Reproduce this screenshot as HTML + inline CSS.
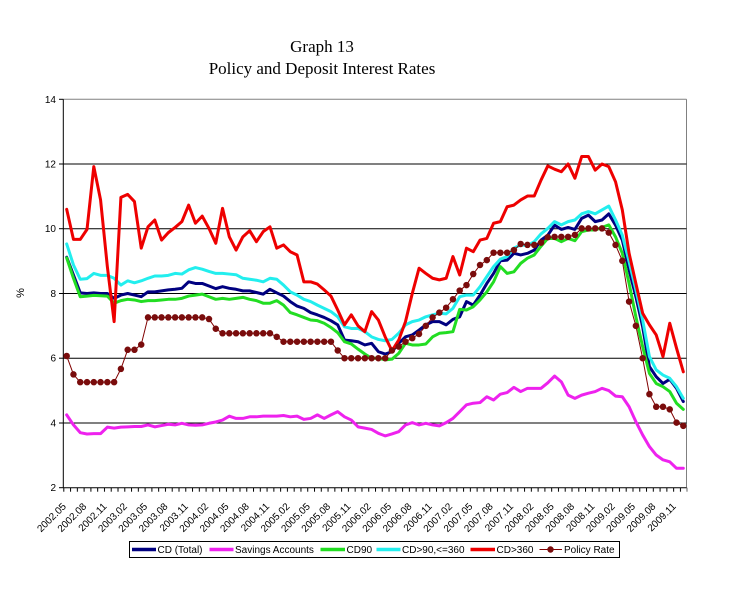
<!DOCTYPE html>
<html>
<head>
<meta charset="utf-8">
<style>
html,body{margin:0;padding:0;background:#fff;}
svg{display:block;}
text{font-family:"Liberation Sans",Arial,sans-serif;}
</style>
</head>
<body>
<svg width="733" height="589" viewBox="0 0 733 589" xmlns="http://www.w3.org/2000/svg">
<defs>
<pattern id="tk" x="63.3" y="0" width="6.776" height="10" patternUnits="userSpaceOnUse">
<rect x="0" y="0" width="1" height="10" fill="#000"/>
</pattern>
</defs>
<rect width="733" height="589" fill="#fff"/>
<!-- Title -->
<text x="322" y="52" text-anchor="middle" style="font-family:'Liberation Serif',serif;font-size:17px;">Graph 13</text>
<text x="322" y="74" text-anchor="middle" style="font-family:'Liberation Serif',serif;font-size:17px;">Policy and Deposit Interest Rates</text>

<!-- plot frame -->
<line x1="63.3" y1="99.3" x2="686.5" y2="99.3" stroke="#808080" stroke-width="1"/>
<line x1="686.5" y1="99.3" x2="686.5" y2="487.7" stroke="#808080" stroke-width="1"/>
<!-- gridlines -->
<g stroke="#000" stroke-width="1">
<line x1="63.3" y1="164" x2="686.5" y2="164"/>
<line x1="63.3" y1="228.7" x2="686.5" y2="228.7"/>
<line x1="63.3" y1="293.5" x2="686.5" y2="293.5"/>
<line x1="63.3" y1="358.2" x2="686.5" y2="358.2"/>
<line x1="63.3" y1="423" x2="686.5" y2="423"/>
<line x1="63.3" y1="99.3" x2="63.3" y2="487.7"/>
<line x1="63.3" y1="487.7" x2="686.5" y2="487.7"/>
<line x1="59" y1="99.3" x2="63.3" y2="99.3"/>
<line x1="59" y1="164" x2="63.3" y2="164"/>
<line x1="59" y1="228.7" x2="63.3" y2="228.7"/>
<line x1="59" y1="293.5" x2="63.3" y2="293.5"/>
<line x1="59" y1="358.2" x2="63.3" y2="358.2"/>
<line x1="59" y1="423" x2="63.3" y2="423"/>
<line x1="59" y1="487.7" x2="63.3" y2="487.7"/>
</g>
<rect x="62.8" y="487.7" width="624.5" height="4" fill="url(#tk)"/>

<!-- y labels -->
<g font-size="10" text-anchor="end">
<text x="56" y="103">14</text>
<text x="56" y="167.5">12</text>
<text x="56" y="232">10</text>
<text x="56" y="297">8</text>
<text x="56" y="361.5">6</text>
<text x="56" y="426.5">4</text>
<text x="56" y="491">2</text>
</g>
<text x="0" y="0" font-size="11" text-anchor="middle" transform="translate(24 293) rotate(-90)">%</text>

<!-- x labels -->
<g font-size="10" text-anchor="end">
<text transform="translate(66.69 507) rotate(-45)">2002.05</text>
<text transform="translate(87.02 507) rotate(-45)">2002.08</text>
<text transform="translate(107.35 507) rotate(-45)">2002.11</text>
<text transform="translate(127.67 507) rotate(-45)">2003.02</text>
<text transform="translate(148.0 507) rotate(-45)">2003.05</text>
<text transform="translate(168.33 507) rotate(-45)">2003.08</text>
<text transform="translate(188.66 507) rotate(-45)">2003.11</text>
<text transform="translate(208.99 507) rotate(-45)">2004.02</text>
<text transform="translate(229.31 507) rotate(-45)">2004.05</text>
<text transform="translate(249.64 507) rotate(-45)">2004.08</text>
<text transform="translate(269.97 507) rotate(-45)">2004.11</text>
<text transform="translate(290.30 507) rotate(-45)">2005.02</text>
<text transform="translate(310.63 507) rotate(-45)">2005.05</text>
<text transform="translate(330.95 507) rotate(-45)">2005.08</text>
<text transform="translate(351.28 507) rotate(-45)">2005.11</text>
<text transform="translate(371.61 507) rotate(-45)">2006.02</text>
<text transform="translate(391.94 507) rotate(-45)">2006.05</text>
<text transform="translate(412.27 507) rotate(-45)">2006.08</text>
<text transform="translate(432.59 507) rotate(-45)">2006.11</text>
<text transform="translate(452.92 507) rotate(-45)">2007.02</text>
<text transform="translate(473.25 507) rotate(-45)">2007.05</text>
<text transform="translate(493.58 507) rotate(-45)">2007.08</text>
<text transform="translate(513.91 507) rotate(-45)">2007.11</text>
<text transform="translate(534.23 507) rotate(-45)">2008.02</text>
<text transform="translate(554.56 507) rotate(-45)">2008.05</text>
<text transform="translate(574.89 507) rotate(-45)">2008.08</text>
<text transform="translate(595.22 507) rotate(-45)">2008.11</text>
<text transform="translate(615.55 507) rotate(-45)">2009.02</text>
<text transform="translate(635.87 507) rotate(-45)">2009.05</text>
<text transform="translate(656.20 507) rotate(-45)">2009.08</text>
<text transform="translate(676.53 507) rotate(-45)">2009.11</text>
</g>

<!-- series -->
<g transform="translate(66.69 552.44) scale(6.776 -32.37)" fill="none" stroke-linejoin="round" stroke-linecap="round">
<polyline vector-effect="non-scaling-stroke" stroke="#000080" stroke-width="3" points="0,9.12 1,8.57 2,8.02 3,8 4,8.02 5,8 6,8 7,7.85 8,7.95 9,8 10,7.95 11,7.9 12,8.05 13,8.05 14,8.08 15,8.11 16,8.13 17,8.16 18,8.36 19,8.31 20,8.31 21,8.23 22,8.15 23,8.21 24,8.16 25,8.13 26,8.08 27,8.08 28,8.03 29,7.98 30,8.13 31,8.02 32,7.92 33,7.75 34,7.61 35,7.54 36,7.41 37,7.34 38,7.26 39,7.16 40,7.03 41,6.56 42,6.54 43,6.51 44,6.41 45,6.46 46,6.2 47,6.13 48,6.2 49,6.46 50,6.66 51,6.72 52,6.87 53,7.03 54,7.13 55,7.13 56,7.03 57,7.2 58,7.28 59,7.75 60,7.64 61,7.95 62,8.31 63,8.62 64,9.01 65,9.03 66,9.24 67,9.19 68,9.24 69,9.34 70,9.65 71,9.8 72,10.11 73,9.98 74,10.04 75,9.98 76,10.32 77,10.42 78,10.22 79,10.27 80,10.46 81,10.11 82,9.65 83,8.73 84,7.9 85,6.97 86,5.74 87,5.43 88,5.22 89,5.35 90,5.07 91,4.66"/>
<polyline vector-effect="non-scaling-stroke" stroke="#ee22ee" stroke-width="3" points="0,4.25 1,3.94 2,3.7 3,3.66 4,3.67 5,3.67 6,3.87 7,3.84 8,3.87 9,3.88 10,3.89 11,3.89 12,3.94 13,3.88 14,3.92 15,3.96 16,3.94 17,3.99 18,3.94 19,3.93 20,3.94 21,3.99 22,4.03 23,4.09 24,4.21 25,4.14 26,4.14 27,4.19 28,4.19 29,4.21 30,4.21 31,4.21 32,4.23 33,4.19 34,4.21 35,4.11 36,4.14 37,4.25 38,4.14 39,4.25 40,4.35 41,4.19 42,4.09 43,3.88 44,3.84 45,3.8 46,3.68 47,3.6 48,3.66 49,3.73 50,3.94 51,4.01 52,3.94 53,3.99 54,3.94 55,3.91 56,4.01 57,4.14 58,4.35 59,4.56 60,4.61 61,4.63 62,4.81 63,4.71 64,4.89 65,4.94 66,5.1 67,4.97 68,5.07 69,5.07 70,5.07 71,5.24 72,5.45 73,5.27 74,4.86 75,4.76 76,4.86 77,4.92 78,4.97 79,5.07 80,5 81,4.83 82,4.81 83,4.5 84,4.04 85,3.63 86,3.27 87,3.01 88,2.86 89,2.8 90,2.6 91,2.6"/>
<polyline vector-effect="non-scaling-stroke" stroke="#22dd22" stroke-width="3" points="0,9.1 1,8.47 2,7.9 3,7.92 4,7.94 5,7.93 6,7.92 7,7.7 8,7.78 9,7.82 10,7.8 11,7.75 12,7.78 13,7.78 14,7.8 15,7.82 16,7.82 17,7.85 18,7.92 19,7.95 20,7.98 21,7.9 22,7.82 23,7.85 24,7.82 25,7.85 26,7.88 27,7.82 28,7.78 29,7.7 30,7.7 31,7.78 32,7.64 33,7.41 34,7.34 35,7.26 36,7.18 37,7.16 38,7.08 39,6.95 40,6.79 41,6.51 42,6.44 43,6.28 44,6.13 45,6.0 46,6.0 47,5.95 48,5.97 49,6.15 50,6.46 51,6.41 52,6.41 53,6.44 54,6.66 55,6.77 56,6.79 57,6.82 58,7.51 59,7.49 60,7.59 61,7.8 62,8.05 63,8.36 64,8.83 65,8.62 66,8.67 67,8.93 68,9.09 69,9.19 70,9.46 71,9.7 72,9.7 73,9.6 74,9.7 75,9.63 76,9.91 77,9.96 78,9.96 79,10.04 80,10.12 81,9.75 82,9.24 83,8.31 84,7.28 85,6.36 86,5.53 87,5.22 88,5.12 89,4.97 90,4.61 91,4.42"/>
<polyline vector-effect="non-scaling-stroke" stroke="#22eeee" stroke-width="3" points="0,9.53 1,8.88 2,8.44 3,8.46 4,8.62 5,8.56 6,8.56 7,8.47 8,8.26 9,8.39 10,8.33 11,8.39 12,8.47 13,8.54 14,8.54 15,8.56 16,8.62 17,8.6 18,8.73 19,8.8 20,8.75 21,8.68 22,8.62 23,8.62 24,8.6 25,8.58 26,8.47 27,8.44 28,8.41 29,8.36 30,8.47 31,8.44 32,8.26 33,8.05 34,7.95 35,7.82 36,7.75 37,7.64 38,7.54 39,7.44 40,7.28 41,6.97 42,6.92 43,6.92 44,6.82 45,6.66 46,6.58 47,6.54 48,6.58 49,6.77 50,7.03 51,7.13 52,7.18 53,7.28 54,7.34 55,7.39 56,7.37 57,7.54 58,7.9 59,7.95 60,7.95 61,8.21 62,8.52 63,8.83 64,9.06 65,9.14 66,9.4 67,9.5 68,9.48 69,9.6 70,9.84 71,10.01 72,10.22 73,10.12 74,10.22 75,10.27 76,10.46 77,10.53 78,10.46 79,10.58 80,10.7 81,10.27 82,9.8 83,8.98 84,8.11 85,7.18 86,6.05 87,5.64 88,5.48 89,5.38 90,5.12 91,4.76"/>
<polyline vector-effect="non-scaling-stroke" stroke="#ee0000" stroke-width="3" points="0,10.6 1,9.67 2,9.67 3,9.98 4,11.92 5,10.89 6,8.83 7,7.13 8,10.97 9,11.06 10,10.84 11,9.4 12,10.06 13,10.27 14,9.65 15,9.88 16,10.04 17,10.22 18,10.73 19,10.17 20,10.39 21,10.01 22,9.55 23,10.63 24,9.75 25,9.34 26,9.75 27,9.94 28,9.6 29,9.91 30,10.06 31,9.4 32,9.5 33,9.29 34,9.19 35,8.36 36,8.36 37,8.29 38,8.11 39,7.92 40,7.49 41,7.03 42,7.34 43,7 44,6.82 45,7.44 46,7.18 47,6.66 48,6.23 49,6.56 50,7.13 51,8 52,8.78 53,8.62 54,8.47 55,8.42 56,8.47 57,9.14 58,8.57 59,9.4 60,9.29 61,9.65 62,9.7 63,10.17 64,10.22 65,10.68 66,10.73 67,10.89 68,11.01 69,11.01 70,11.5 71,11.94 72,11.84 73,11.76 74,12 75,11.56 76,12.23 77,12.23 78,11.81 79,12 80,11.92 81,11.45 82,10.58 83,9.24 84,8.31 85,7.39 86,7.03 87,6.72 88,6.05 89,7.08 90,6.31 91,5.58"/>
<polyline vector-effect="non-scaling-stroke" stroke="#800000" stroke-width="1" points="0,6.07 1,5.5 2,5.26 3,5.26 4,5.26 5,5.26 6,5.26 7,5.26 8,5.67 9,6.26 10,6.26 11,6.42 12,7.26 13,7.26 14,7.26 15,7.26 16,7.26 17,7.26 18,7.26 19,7.26 20,7.26 21,7.21 22,6.91 23,6.77 24,6.77 25,6.77 26,6.77 27,6.77 28,6.77 29,6.77 30,6.77 31,6.66 32,6.51 33,6.51 34,6.51 35,6.51 36,6.51 37,6.51 38,6.51 39,6.51 40,6.24 41,6 42,6 43,6 44,6 45,6 46,6 47,6 48,6.24 49,6.36 50,6.51 51,6.62 52,6.75 53,7 54,7.26 55,7.41 56,7.56 57,7.82 58,8.09 59,8.26 60,8.6 61,8.88 62,9.03 63,9.26 64,9.26 65,9.26 66,9.34 67,9.53 68,9.5 69,9.5 70,9.57 71,9.74 72,9.75 73,9.75 74,9.75 75,9.81 76,10.01 77,10.01 78,10.01 79,10.01 80,9.88 81,9.5 82,9.01 83,7.75 84,7 85,6 86,4.89 87,4.5 88,4.5 89,4.42 90,4.01 91,3.91"/>
<path vector-effect="non-scaling-stroke" stroke="#7a0c0c" stroke-width="6.5" stroke-linecap="round" d="M0,6.07h0M1,5.5h0M2,5.26h0M3,5.26h0M4,5.26h0M5,5.26h0M6,5.26h0M7,5.26h0M8,5.67h0M9,6.26h0M10,6.26h0M11,6.42h0M12,7.26h0M13,7.26h0M14,7.26h0M15,7.26h0M16,7.26h0M17,7.26h0M18,7.26h0M19,7.26h0M20,7.26h0M21,7.21h0M22,6.91h0M23,6.77h0M24,6.77h0M25,6.77h0M26,6.77h0M27,6.77h0M28,6.77h0M29,6.77h0M30,6.77h0M31,6.66h0M32,6.51h0M33,6.51h0M34,6.51h0M35,6.51h0M36,6.51h0M37,6.51h0M38,6.51h0M39,6.51h0M40,6.24h0M41,6h0M42,6h0M43,6h0M44,6h0M45,6h0M46,6h0M47,6h0M48,6.24h0M49,6.36h0M50,6.51h0M51,6.62h0M52,6.75h0M53,7h0M54,7.26h0M55,7.41h0M56,7.56h0M57,7.82h0M58,8.09h0M59,8.26h0M60,8.6h0M61,8.88h0M62,9.03h0M63,9.26h0M64,9.26h0M65,9.26h0M66,9.34h0M67,9.53h0M68,9.5h0M69,9.5h0M70,9.57h0M71,9.74h0M72,9.75h0M73,9.75h0M74,9.75h0M75,9.81h0M76,10.01h0M77,10.01h0M78,10.01h0M79,10.01h0M80,9.88h0M81,9.5h0M82,9.01h0M83,7.75h0M84,7h0M85,6h0M86,4.89h0M87,4.5h0M88,4.5h0M89,4.42h0M90,4.01h0M91,3.91h0"/>
</g>

<!-- legend -->
<rect x="129.5" y="541.5" width="490" height="16" fill="#fff" stroke="#000" stroke-width="1"/>
<g stroke-width="3.5">
<line x1="132" y1="549.5" x2="156" y2="549.5" stroke="#000080"/>
<line x1="209.5" y1="549.5" x2="233.5" y2="549.5" stroke="#ee22ee"/>
<line x1="320.5" y1="549.5" x2="345" y2="549.5" stroke="#22dd22"/>
<line x1="376.5" y1="549.5" x2="400.5" y2="549.5" stroke="#22eeee"/>
<line x1="470.5" y1="549.5" x2="495" y2="549.5" stroke="#ee0000"/>
</g>
<line x1="539.5" y1="549.5" x2="562" y2="549.5" stroke="#800000" stroke-width="1"/>
<circle cx="550.5" cy="549.5" r="3.2" fill="#7a0c0c"/>
<g font-size="10">
<text x="157.5" y="553">CD (Total)</text>
<text x="235" y="553">Savings Accounts</text>
<text x="346.5" y="553">CD90</text>
<text x="402" y="553">CD&gt;90,&lt;=360</text>
<text x="496.5" y="553">CD&gt;360</text>
<text x="564" y="553">Policy Rate</text>
</g>
</svg>
</body>
</html>
